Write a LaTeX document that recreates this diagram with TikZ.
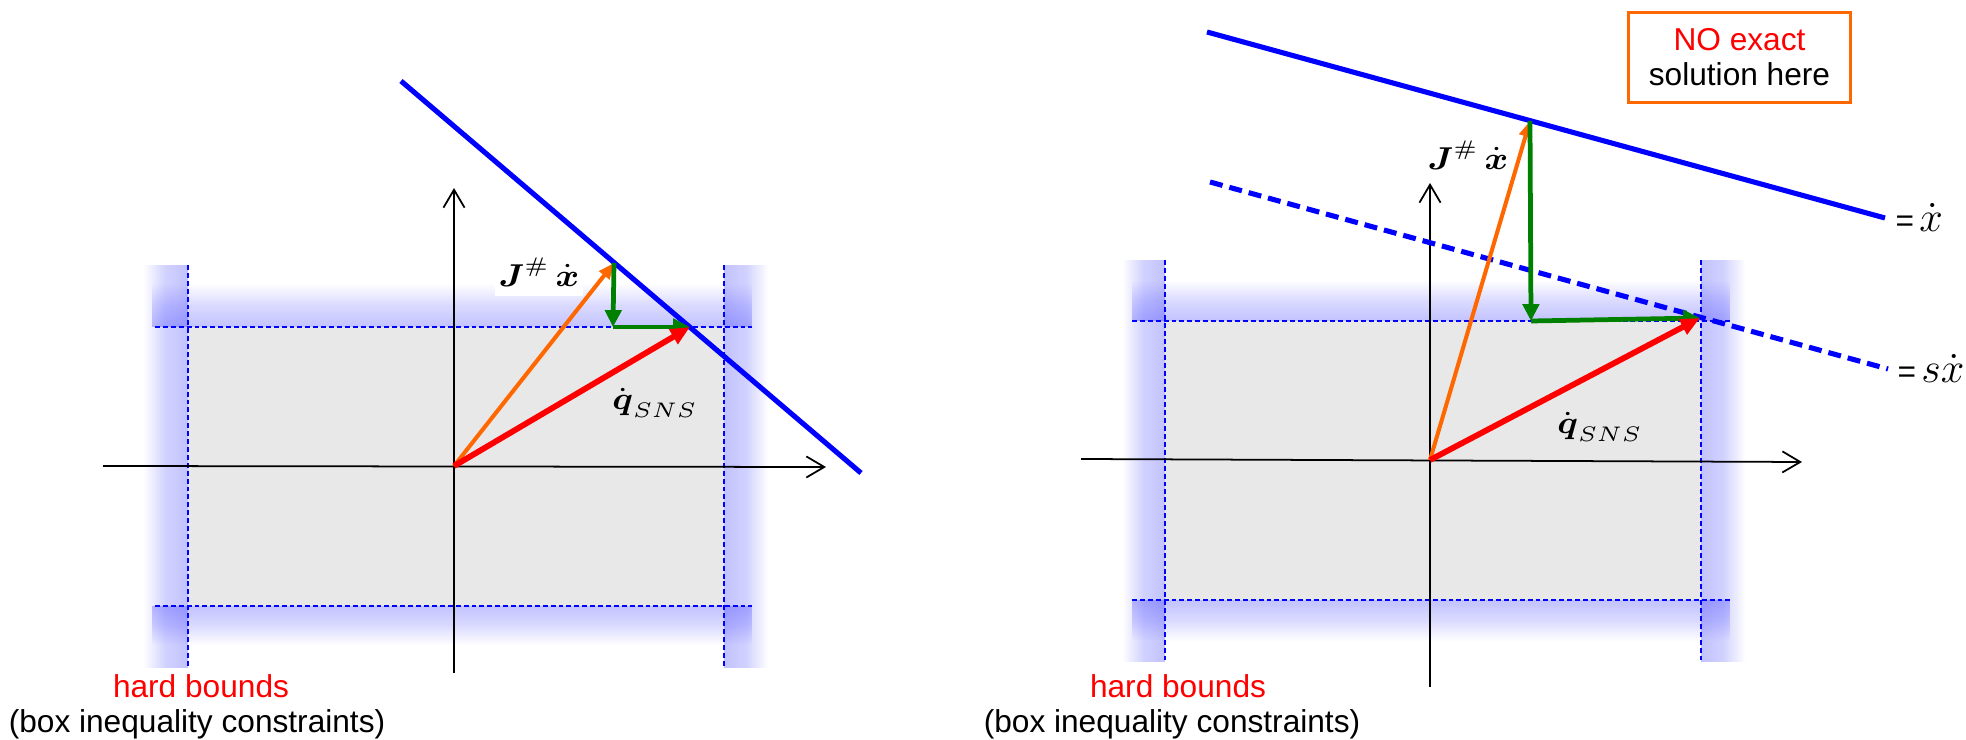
\documentclass[tikz,border=0pt]{standalone}
\usepackage{amsmath,amssymb}
\usepackage[no-math]{fontspec}
\setmainfont{Liberation Sans}
\usetikzlibrary{arrows.meta,fadings}

\definecolor{boxgray}{RGB}{232,232,232}
\definecolor{vecorange}{RGB}{255,104,0}
\definecolor{vecgreen}{RGB}{0,128,0}

\tikzfading[name=fadewest,left color=transparent!100,right color=transparent!0,middle color=transparent!25]
\tikzfading[name=fadeeast,left color=transparent!0,right color=transparent!100,middle color=transparent!25]
\tikzfading[name=fadenorth,top color=transparent!100,bottom color=transparent!0,middle color=transparent!40]
\tikzfading[name=fadesouth,top color=transparent!0,bottom color=transparent!100,middle color=transparent!40]

\begin{document}
\begin{tikzpicture}[x=0.01cm,y=-0.01cm]
\tikzset{
  glowband/.style={fill=blue,fill opacity=0.24},
  boundline/.style={draw=blue,line width=0.5pt,dash pattern=on 1.4pt off 0.85pt},
  axisline/.style={draw=black,line width=0.5pt,-{Straight Barb[length=5.1pt,width=6pt]}},
  limitline/.style={draw=blue,line width=1.45pt},
  limitdashed/.style={limitline,dash pattern=on 3.7pt off 2pt},
  pinvvec/.style={draw=vecorange,line width=1.15pt,-{Triangle[length=4.5pt,width=3.6pt]}},
  projvec/.style={draw=vecgreen,line width=1.35pt,-{Triangle[length=4.8pt,width=4.6pt]}},
  snsvec/.style={draw=red,line width=1.65pt,-{Triangle[length=5.5pt,width=4.6pt]}},
  veclabel/.style={inner sep=1pt,font=\fontsize{9}{10}\selectfont},
  textlabel/.style={inner sep=0pt,anchor=base,font=\fontsize{9}{10.2}\selectfont},
  notebox/.style={draw=vecorange,line width=0.94pt,fill=white,align=center,minimum width=2.22cm,minimum height=0.9cm,inner sep=2pt,font=\fontsize{9}{10}\selectfont}
}
\useasboundingbox (0,0) rectangle (1966,740);
% left panel: feasible box and its hard bounds
\fill[boxgray] (188,327) rectangle (724,606);
\fill[glowband,path fading=fadewest] (143,265) rectangle (188,668);
\fill[glowband,path fading=fadeeast] (724,265) rectangle (768,668);
\fill[glowband,path fading=fadenorth] (152,283) rectangle (752,327);
\fill[glowband,path fading=fadesouth] (152,606) rectangle (752,645);
\draw[boundline] (188,265) -- (188,666);
\draw[boundline] (724,265) -- (724,666);
\draw[boundline] (155,327) -- (752,327);
\draw[boundline] (155,606) -- (752,606);
\draw[axisline] (103,466) -- (826,467);
\draw[axisline] (454,673) -- (454,188);
\coordinate (aL) at (401,81);
\coordinate (bL) at (861,473);
\coordinate (oL) at (454,466);
\coordinate (jL) at (614,263);
\coordinate (cL) at (613,327);
\coordinate (qL) at (690,327);
\draw[limitline] (aL) -- (bL);
\draw[pinvvec] (oL) -- (jL);
\draw[projvec] (jL) -- (cL);
\draw[projvec] (cL) -- (qL);
\draw[snsvec] (oL) -- (qL);
\node[veclabel,fill=white,minimum width=0.77cm,minimum height=0.48cm] (jlabL) at (539,272) {\scalebox{1.1}[1]{$\boldsymbol{J}^{\#}\,\dot{\boldsymbol{x}}$}};
\node[veclabel] (qlabL) at (655,403) {\scalebox{1.1}[1]{$\dot{\boldsymbol{q}}_{SNS}$}};
\node[textlabel,text=red] (hardL) at (201,697) {hard bounds};
\node[textlabel] (boxL) at (197,732) {(box inequality constraints)};
% right panel: scaled task
\fill[boxgray] (1165,321) rectangle (1701,600);
\fill[glowband,path fading=fadewest] (1122,260) rectangle (1165,662);
\fill[glowband,path fading=fadeeast] (1701,260) rectangle (1745,662);
\fill[glowband,path fading=fadenorth] (1132,280) rectangle (1730,321);
\fill[glowband,path fading=fadesouth] (1132,600) rectangle (1730,641);
\draw[boundline] (1165,260) -- (1165,660);
\draw[boundline] (1701,260) -- (1701,660);
\draw[boundline] (1132,321) -- (1730,321);
\draw[boundline] (1132,600) -- (1730,600);
\draw[axisline] (1081,459) -- (1802,462);
\draw[axisline] (1430,687) -- (1430,183);
\coordinate (aR) at (1207,32);
\coordinate (bR) at (1885,218);
\coordinate (dR) at (1210,182);
\coordinate (eR) at (1888,369);
\coordinate (oR) at (1430,460);
\coordinate (jR) at (1530,121);
\coordinate (cR) at (1531,321);
\coordinate (qR) at (1700,318);
\draw[limitline] (aR) -- (bR);
\draw[limitdashed] (dR) -- (eR);
\draw[pinvvec] (oR) -- (jR);
\draw[projvec] (jR) -- (cR);
\draw[projvec] (cR) -- (qR);
\draw[snsvec] (oR) -- (qR);
\node[veclabel] (jlabR) at (1468,155) {\scalebox{1.1}[1]{$\boldsymbol{J}^{\#}\,\dot{\boldsymbol{x}}$}};
\node[veclabel] (qlabR) at (1600,427) {\scalebox{1.1}[1]{$\dot{\boldsymbol{q}}_{SNS}$}};
\node[textlabel,anchor=base west] (eqfull) at (1895,232) {=\,{\fontsize{12}{13}\selectfont$\dot{x}$}};
\node[textlabel,anchor=base west] (eqscaled) at (1897,383) {=\,{\fontsize{12}{13}\selectfont$s\dot{x}$}};
\node[notebox] (note) at (1739.5,57.5) {\textcolor{red}{NO exact}\\solution here};
\node[textlabel,text=red] (hardR) at (1178,697) {hard bounds};
\node[textlabel] (boxR) at (1172,732) {(box inequality constraints)};
\end{tikzpicture}
\end{document}
